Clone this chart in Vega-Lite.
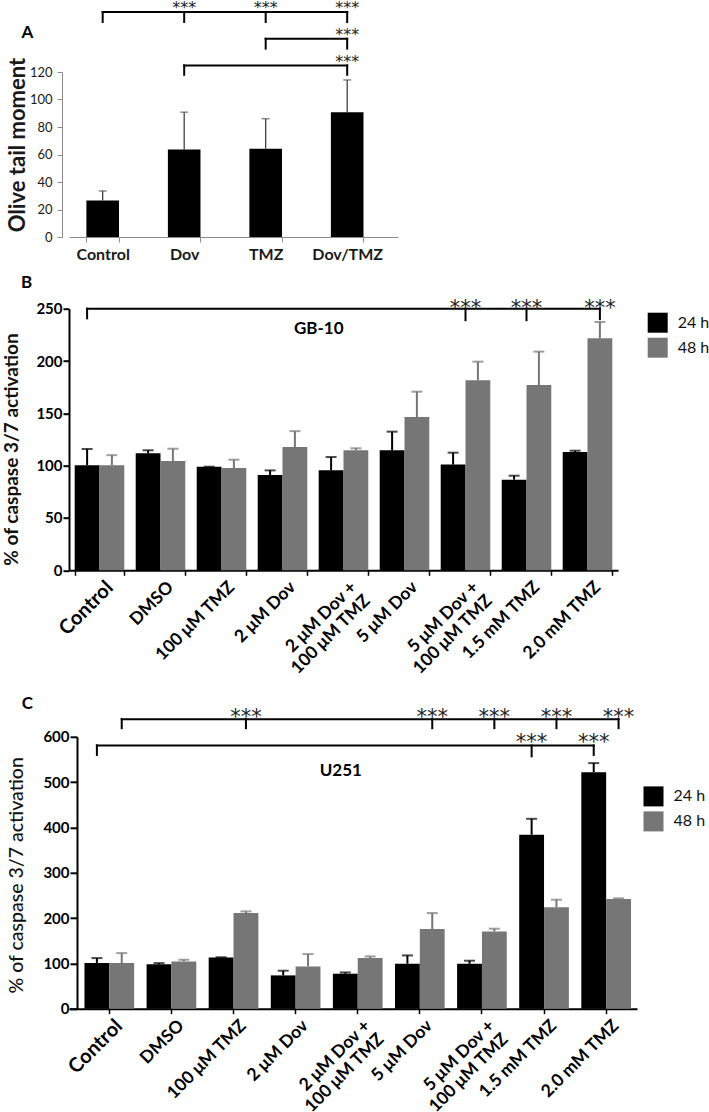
{
  "$schema": "https://vega.github.io/schema/vega-lite/v6.json",
  "padding": {"left": 2, "top": 0, "right": 0, "bottom": 0},
  "config": {
    "font": "Lato",
    "view": {"stroke": null},
    "axis": {"grid": false, "labelFont": "Lato", "titleFont": "Lato", "labelOverlap": false}
  },
  "datasets": {
    "a_bars": [
      {"cat": "Control", "value": 26.5, "upper": 33.5},
      {"cat": "Dov", "value": 63.6, "upper": 90.8},
      {"cat": "TMZ", "value": 64.1, "upper": 86},
      {"cat": "Dov/TMZ", "value": 90.8, "upper": 114.2}
    ],
    "a_hlines": [
      {"id": "a1", "cat": "Control", "y": 163.6}, {"id": "a1", "cat": "Dov/TMZ", "y": 163.6},
      {"id": "a2", "cat": "TMZ", "y": 144.2}, {"id": "a2", "cat": "Dov/TMZ", "y": 144.2},
      {"id": "a3", "cat": "Dov", "y": 124.8}, {"id": "a3", "cat": "Dov/TMZ", "y": 124.8}
    ],
    "a_drops": [
      {"cat": "Control", "y": 156.4, "y2": 163.6}, {"cat": "Dov", "y": 156.4, "y2": 163.6},
      {"cat": "TMZ", "y": 156.4, "y2": 163.6}, {"cat": "Dov/TMZ", "y": 156.4, "y2": 163.6},
      {"cat": "TMZ", "y": 137, "y2": 144.2}, {"cat": "Dov/TMZ", "y": 137, "y2": 144.2},
      {"cat": "Dov", "y": 118, "y2": 124.8}, {"cat": "Dov/TMZ", "y": 118, "y2": 124.8}
    ],
    "a_stars": [
      {"cat": "Dov", "y": 162.8}, {"cat": "TMZ", "y": 162.8}, {"cat": "Dov/TMZ", "y": 162.8},
      {"cat": "Dov/TMZ", "y": 143}, {"cat": "Dov/TMZ", "y": 123.6}
    ],
    "a_letter": [{"cat": "Control", "y": 144.9, "label": "A"}],
    "b_bars": [
      {"cat": "Control", "series": "24 h", "value": 100.5, "upper": 116},
      {"cat": "Control", "series": "48 h", "value": 100.5, "upper": 110},
      {"cat": "DMSO", "series": "24 h", "value": 111.8, "upper": 114.7},
      {"cat": "DMSO", "series": "48 h", "value": 104.5, "upper": 116.2},
      {"cat": "100 μM TMZ", "series": "24 h", "value": 99, "upper": 99},
      {"cat": "100 μM TMZ", "series": "48 h", "value": 97.8, "upper": 105.7},
      {"cat": "2 μM Dov", "series": "24 h", "value": 91, "upper": 95.5},
      {"cat": "2 μM Dov", "series": "48 h", "value": 117.8, "upper": 133},
      {"cat": "2 μM Dov + 100 μM TMZ", "series": "24 h", "value": 95.5, "upper": 108.3},
      {"cat": "2 μM Dov + 100 μM TMZ", "series": "48 h", "value": 114.7, "upper": 116.6},
      {"cat": "5 μM Dov", "series": "24 h", "value": 114.7, "upper": 132.5},
      {"cat": "5 μM Dov", "series": "48 h", "value": 146.5, "upper": 170.7},
      {"cat": "5 μM Dov + 100 μM TMZ", "series": "24 h", "value": 101, "upper": 112.4},
      {"cat": "5 μM Dov + 100 μM TMZ", "series": "48 h", "value": 181.6, "upper": 199.4},
      {"cat": "1.5 mM TMZ", "series": "24 h", "value": 86.6, "upper": 90.4},
      {"cat": "1.5 mM TMZ", "series": "48 h", "value": 177, "upper": 209},
      {"cat": "2.0 mM TMZ", "series": "24 h", "value": 113, "upper": 114.3},
      {"cat": "2.0 mM TMZ", "series": "48 h", "value": 221.7, "upper": 237.3}
    ],
    "b_hlines": [
      {"id": "b1", "cat": "Control", "series": "24 h", "y": 250},
      {"id": "b1", "cat": "2.0 mM TMZ", "series": "48 h", "y": 250}
    ],
    "b_drops_bar": [
      {"cat": "Control", "series": "24 h", "y": 240.8, "y2": 250},
      {"cat": "2.0 mM TMZ", "series": "48 h", "y": 240, "y2": 250}
    ],
    "b_drops_grp": [
      {"cat": "5 μM Dov + 100 μM TMZ", "y": 239, "y2": 250},
      {"cat": "1.5 mM TMZ", "y": 239, "y2": 250}
    ],
    "b_stars_grp": [
      {"cat": "5 μM Dov + 100 μM TMZ", "y": 244.2},
      {"cat": "1.5 mM TMZ", "y": 244.2}
    ],
    "b_stars_bar": [{"cat": "2.0 mM TMZ", "series": "48 h", "y": 244.2}],
    "b_letter": [{"cat": "Control", "y": 270.1, "label": "B"}],
    "b_note": [{"cat": "2 μM Dov + 100 μM TMZ", "y": 225.5, "label": "GB-10"}],
    "c_bars": [
      {"cat": "Control", "series": "24 h", "value": 100.6, "upper": 111.7},
      {"cat": "Control", "series": "48 h", "value": 100.6, "upper": 122.7},
      {"cat": "DMSO", "series": "24 h", "value": 98, "upper": 100.6},
      {"cat": "DMSO", "series": "48 h", "value": 104.4, "upper": 108},
      {"cat": "100 μM TMZ", "series": "24 h", "value": 113, "upper": 113.5},
      {"cat": "100 μM TMZ", "series": "48 h", "value": 211, "upper": 214.7},
      {"cat": "2 μM Dov", "series": "24 h", "value": 73.5, "upper": 83.8},
      {"cat": "2 μM Dov", "series": "48 h", "value": 93.3, "upper": 120.5},
      {"cat": "2 μM Dov + 100 μM TMZ", "series": "24 h", "value": 77.2, "upper": 80},
      {"cat": "2 μM Dov + 100 μM TMZ", "series": "48 h", "value": 111.7, "upper": 115.4},
      {"cat": "5 μM Dov", "series": "24 h", "value": 99.2, "upper": 117.6},
      {"cat": "5 μM Dov", "series": "48 h", "value": 175.7, "upper": 211},
      {"cat": "5 μM Dov + 100 μM TMZ", "series": "24 h", "value": 99.2, "upper": 105.9},
      {"cat": "5 μM Dov + 100 μM TMZ", "series": "48 h", "value": 170.5, "upper": 176.5},
      {"cat": "1.5 mM TMZ", "series": "24 h", "value": 384, "upper": 419},
      {"cat": "1.5 mM TMZ", "series": "48 h", "value": 224, "upper": 240.5},
      {"cat": "2.0 mM TMZ", "series": "24 h", "value": 522, "upper": 542},
      {"cat": "2.0 mM TMZ", "series": "48 h", "value": 241.8, "upper": 243.6}
    ],
    "c_hlines": [
      {"id": "c1", "cat": "Control", "series": "48 h", "y": 639},
      {"id": "c1", "cat": "2.0 mM TMZ", "series": "48 h", "y": 639},
      {"id": "c2", "cat": "Control", "series": "24 h", "y": 581},
      {"id": "c2", "cat": "2.0 mM TMZ", "series": "24 h", "y": 581}
    ],
    "c_drops": [
      {"cat": "Control", "series": "48 h", "y": 619, "y2": 639},
      {"cat": "100 μM TMZ", "series": "48 h", "y": 619, "y2": 639},
      {"cat": "5 μM Dov", "series": "48 h", "y": 619, "y2": 639},
      {"cat": "5 μM Dov + 100 μM TMZ", "series": "48 h", "y": 619, "y2": 639},
      {"cat": "1.5 mM TMZ", "series": "48 h", "y": 619, "y2": 639},
      {"cat": "2.0 mM TMZ", "series": "48 h", "y": 619, "y2": 639},
      {"cat": "Control", "series": "24 h", "y": 560, "y2": 581},
      {"cat": "1.5 mM TMZ", "series": "24 h", "y": 557, "y2": 581},
      {"cat": "2.0 mM TMZ", "series": "24 h", "y": 560, "y2": 581}
    ],
    "c_stars": [
      {"cat": "100 μM TMZ", "series": "48 h", "y": 629.3},
      {"cat": "5 μM Dov", "series": "48 h", "y": 629.3},
      {"cat": "5 μM Dov + 100 μM TMZ", "series": "48 h", "y": 629.3},
      {"cat": "1.5 mM TMZ", "series": "48 h", "y": 629.3},
      {"cat": "2.0 mM TMZ", "series": "48 h", "y": 629.3},
      {"cat": "1.5 mM TMZ", "series": "24 h", "y": 574.1},
      {"cat": "2.0 mM TMZ", "series": "24 h", "y": 574.1}
    ],
    "c_letter": [{"cat": "Control", "y": 660.4, "label": "C"}],
    "c_note": [{"cat": "2 μM Dov + 100 μM TMZ", "y": 512.6, "label": "U251"}]
  },
  "bounds": "flush",
  "spacing": 71.7,
  "resolve": {"scale": {"color": "independent", "xOffset": "independent"}, "legend": {"color": "independent"}},
  "vconcat": [
    {
      "width": 329,
      "height": 165,
      "layer": [
        {
          "data": {"name": "a_bars"},
          "mark": {"type": "bar", "color": "#000000"},
          "encoding": {
            "x": {"field": "cat", "type": "nominal", "sort": null, "scale": {"domain": ["Control", "Dov", "TMZ", "Dov/TMZ"], "paddingInner": 0.6, "paddingOuter": 0.3185, "align": 0.335}, "axis": {"title": null, "labelAngle": 0, "labelFontSize": 16, "labelFontWeight": "bold", "labelColor": "#1a1a1a", "labelPadding": 4, "domainColor": "#8c8c8c", "domainWidth": 1, "tickColor": "#8c8c8c", "tickSize": 5, "tickWidth": 1, "tickBand": "extent"}},
            "y": {"field": "value", "type": "quantitative", "scale": {"domain": [0, 120], "nice": false}, "axis": {"title": "Olive tail moment", "values": [0, 20, 40, 60, 80, 100, 120], "offset": 7, "labelOverlap": false, "labelFontSize": 13, "labelColor": "#1a1a1a", "labelPadding": 5, "tickSize": 5, "tickColor": "#8c8c8c", "domainColor": "#8c8c8c", "titleFontSize": 22, "titleFontWeight": "bold", "titleColor": "#1a1a1a", "titleX": -38, "titleY": 72.5, "titleAngle": -90, "titleAlign": "center", "titleBaseline": "alphabetic"}}
          }
        },
        {
          "data": {"name": "a_bars"},
          "mark": {"type": "rule", "color": "#333333", "strokeWidth": 1.2},
          "encoding": {
            "x": {"field": "cat", "type": "nominal", "sort": null, "scale": {"domain": ["Control", "Dov", "TMZ", "Dov/TMZ"], "paddingInner": 0.6, "paddingOuter": 0.3185, "align": 0.335}, "axis": {"title": null, "labelAngle": 0, "labelFontSize": 16, "labelFontWeight": "bold", "labelColor": "#1a1a1a", "labelPadding": 4, "domainColor": "#8c8c8c", "domainWidth": 1, "tickColor": "#8c8c8c", "tickSize": 5, "tickWidth": 1, "tickBand": "extent"}},
            "y": {"field": "value", "type": "quantitative", "scale": {"domain": [0, 120], "nice": false}, "axis": {"title": "Olive tail moment", "values": [0, 20, 40, 60, 80, 100, 120], "offset": 7, "labelOverlap": false, "labelFontSize": 13, "labelColor": "#1a1a1a", "labelPadding": 5, "tickSize": 5, "tickColor": "#8c8c8c", "domainColor": "#8c8c8c", "titleFontSize": 22, "titleFontWeight": "bold", "titleColor": "#1a1a1a", "titleX": -38, "titleY": 72.5, "titleAngle": -90, "titleAlign": "center", "titleBaseline": "alphabetic"}},
            "y2": {"field": "upper"}
          }
        },
        {
          "data": {"name": "a_bars"},
          "mark": {"type": "tick", "orient": "horizontal", "color": "#333333", "size": 8, "thickness": 1.2},
          "encoding": {
            "x": {"field": "cat", "type": "nominal", "sort": null, "scale": {"domain": ["Control", "Dov", "TMZ", "Dov/TMZ"], "paddingInner": 0.6, "paddingOuter": 0.3185, "align": 0.335}, "axis": {"title": null, "labelAngle": 0, "labelFontSize": 16, "labelFontWeight": "bold", "labelColor": "#1a1a1a", "labelPadding": 4, "domainColor": "#8c8c8c", "domainWidth": 1, "tickColor": "#8c8c8c", "tickSize": 5, "tickWidth": 1, "tickBand": "extent"}},
            "y": {"field": "upper", "type": "quantitative", "scale": {"domain": [0, 120], "nice": false}, "axis": {"title": "Olive tail moment", "values": [0, 20, 40, 60, 80, 100, 120], "offset": 7, "labelOverlap": false, "labelFontSize": 13, "labelColor": "#1a1a1a", "labelPadding": 5, "tickSize": 5, "tickColor": "#8c8c8c", "domainColor": "#8c8c8c", "titleFontSize": 22, "titleFontWeight": "bold", "titleColor": "#1a1a1a", "titleX": -38, "titleY": 72.5, "titleAngle": -90, "titleAlign": "center", "titleBaseline": "alphabetic"}}
          }
        },
        {
          "data": {"name": "a_hlines"},
          "mark": {"type": "line", "color": "#000000", "strokeWidth": 2, "strokeCap": "square"},
          "encoding": {
            "x": {"field": "cat", "type": "nominal", "sort": null, "scale": {"domain": ["Control", "Dov", "TMZ", "Dov/TMZ"], "paddingInner": 0.6, "paddingOuter": 0.3185, "align": 0.335}, "axis": {"title": null, "labelAngle": 0, "labelFontSize": 16, "labelFontWeight": "bold", "labelColor": "#1a1a1a", "labelPadding": 4, "domainColor": "#8c8c8c", "domainWidth": 1, "tickColor": "#8c8c8c", "tickSize": 5, "tickWidth": 1, "tickBand": "extent"}},
            "y": {"field": "y", "type": "quantitative", "scale": {"domain": [0, 120], "nice": false}, "axis": {"title": "Olive tail moment", "values": [0, 20, 40, 60, 80, 100, 120], "offset": 7, "labelOverlap": false, "labelFontSize": 13, "labelColor": "#1a1a1a", "labelPadding": 5, "tickSize": 5, "tickColor": "#8c8c8c", "domainColor": "#8c8c8c", "titleFontSize": 22, "titleFontWeight": "bold", "titleColor": "#1a1a1a", "titleX": -38, "titleY": 72.5, "titleAngle": -90, "titleAlign": "center", "titleBaseline": "alphabetic"}},
            "detail": {"field": "id"}
          }
        },
        {
          "data": {"name": "a_drops"},
          "mark": {"type": "rule", "color": "#000000", "strokeWidth": 2, "strokeCap": "square"},
          "encoding": {
            "x": {"field": "cat", "type": "nominal", "sort": null, "scale": {"domain": ["Control", "Dov", "TMZ", "Dov/TMZ"], "paddingInner": 0.6, "paddingOuter": 0.3185, "align": 0.335}, "axis": {"title": null, "labelAngle": 0, "labelFontSize": 16, "labelFontWeight": "bold", "labelColor": "#1a1a1a", "labelPadding": 4, "domainColor": "#8c8c8c", "domainWidth": 1, "tickColor": "#8c8c8c", "tickSize": 5, "tickWidth": 1, "tickBand": "extent"}},
            "y": {"field": "y", "type": "quantitative", "scale": {"domain": [0, 120], "nice": false}, "axis": {"title": "Olive tail moment", "values": [0, 20, 40, 60, 80, 100, 120], "offset": 7, "labelOverlap": false, "labelFontSize": 13, "labelColor": "#1a1a1a", "labelPadding": 5, "tickSize": 5, "tickColor": "#8c8c8c", "domainColor": "#8c8c8c", "titleFontSize": 22, "titleFontWeight": "bold", "titleColor": "#1a1a1a", "titleX": -38, "titleY": 72.5, "titleAngle": -90, "titleAlign": "center", "titleBaseline": "alphabetic"}},
            "y2": {"field": "y2"}
          }
        },
        {
          "data": {"name": "a_stars"},
          "mark": {"type": "text", "text": "***", "font": "DejaVu Sans", "fontSize": 16, "color": "#222222", "align": "center", "baseline": "alphabetic"},
          "encoding": {
            "x": {"field": "cat", "type": "nominal", "sort": null, "scale": {"domain": ["Control", "Dov", "TMZ", "Dov/TMZ"], "paddingInner": 0.6, "paddingOuter": 0.3185, "align": 0.335}, "axis": {"title": null, "labelAngle": 0, "labelFontSize": 16, "labelFontWeight": "bold", "labelColor": "#1a1a1a", "labelPadding": 4, "domainColor": "#8c8c8c", "domainWidth": 1, "tickColor": "#8c8c8c", "tickSize": 5, "tickWidth": 1, "tickBand": "extent"}},
            "y": {"field": "y", "type": "quantitative", "scale": {"domain": [0, 120], "nice": false}, "axis": {"title": "Olive tail moment", "values": [0, 20, 40, 60, 80, 100, 120], "offset": 7, "labelOverlap": false, "labelFontSize": 13, "labelColor": "#1a1a1a", "labelPadding": 5, "tickSize": 5, "tickColor": "#8c8c8c", "domainColor": "#8c8c8c", "titleFontSize": 22, "titleFontWeight": "bold", "titleColor": "#1a1a1a", "titleX": -38, "titleY": 72.5, "titleAngle": -90, "titleAlign": "center", "titleBaseline": "alphabetic"}}
          }
        },
        {
          "data": {"name": "a_letter"},
          "mark": {"type": "text", "fontSize": 17, "fontWeight": "bold", "color": "#000000", "align": "left", "baseline": "alphabetic", "dx": -65},
          "encoding": {
            "x": {"field": "cat", "type": "nominal", "sort": null, "bandPosition": 0, "scale": {"domain": ["Control", "Dov", "TMZ", "Dov/TMZ"], "paddingInner": 0.6, "paddingOuter": 0.3185, "align": 0.335}, "axis": {"title": null, "labelAngle": 0, "labelFontSize": 16, "labelFontWeight": "bold", "labelColor": "#1a1a1a", "labelPadding": 4, "domainColor": "#8c8c8c", "domainWidth": 1, "tickColor": "#8c8c8c", "tickSize": 5, "tickWidth": 1, "tickBand": "extent"}},
            "y": {"field": "y", "type": "quantitative", "scale": {"domain": [0, 120], "nice": false}, "axis": {"title": "Olive tail moment", "values": [0, 20, 40, 60, 80, 100, 120], "offset": 7, "labelOverlap": false, "labelFontSize": 13, "labelColor": "#1a1a1a", "labelPadding": 5, "tickSize": 5, "tickColor": "#8c8c8c", "domainColor": "#8c8c8c", "titleFontSize": 22, "titleFontWeight": "bold", "titleColor": "#1a1a1a", "titleX": -38, "titleY": 72.5, "titleAngle": -90, "titleAlign": "center", "titleBaseline": "alphabetic"}},
            "text": {"field": "label"}
          }
        }
      ]
    },
    {
      "bounds": "flush",
      "spacing": 166.1,
      "resolve": {"scale": {"color": "independent", "xOffset": "independent"}, "legend": {"color": "independent"}},
      "vconcat": [
        {
          "width": 549,
          "height": 261.6,
          "layer": [
            {
              "data": {"name": "b_bars"},
              "mark": {"type": "bar"},
              "encoding": {
                "x": {"field": "cat", "type": "nominal", "sort": null, "scale": {"domain": ["Control", "DMSO", "100 μM TMZ", "2 μM Dov", "2 μM Dov + 100 μM TMZ", "5 μM Dov", "5 μM Dov + 100 μM TMZ", "1.5 mM TMZ", "2.0 mM TMZ"], "paddingInner": 0.187, "paddingOuter": 0.0935}, "axis": {"title": null, "labelAngle": -45, "labelAlign": "right", "labelBaseline": "middle", "labelFontSize": {"condition": {"test": "datum.value === 'Control'", "value": 20}, "value": 17.5}, "labelFontWeight": "bold", "labelColor": "#000000", "labelOffset": 10, "labelPadding": 9, "labelLineHeight": 19, "labelOverlap": false, "labelExpr": "indexof(datum.label, '+') > 0 ? [slice(datum.label, 0, indexof(datum.label, '+') + 1), slice(datum.label, indexof(datum.label, '+') + 2)] : datum.label", "domainColor": "#000000", "domainWidth": 2, "tickColor": "#000000", "tickWidth": 1.5, "tickSize": 5, "tickBand": "extent"}},
                "xOffset": {"field": "series", "type": "nominal", "scale": {"domain": ["24 h", "48 h"], "paddingInner": 0}},
                "y": {"field": "value", "type": "quantitative", "scale": {"domain": [0, 250], "nice": false}, "axis": {"title": "% of caspase 3/7 activation", "values": [0, 50, 100, 150, 200, 250], "labelOverlap": false, "labelFontSize": 15, "labelFontWeight": "bold", "labelColor": "#000000", "labelPadding": 1, "tickSize": 6, "tickWidth": 2, "tickColor": "#000000", "domainColor": "#000000", "domainWidth": 2, "titleFontSize": 19, "titleFontWeight": "bold", "titleColor": "#111111", "titleX": -51.7, "titleY": 140.3, "titleAngle": -90, "titleAlign": "center", "titleBaseline": "alphabetic"}},
                "color": {"field": "series", "type": "nominal", "scale": {"domain": ["24 h", "48 h"], "range": ["#000000", "#767676"]}, "legend": {"orient": "none", "legendX": 578.7, "legendY": 4, "title": null, "symbolType": "square", "symbolSize": 400, "symbolStrokeWidth": 0, "symbolOpacity": 1, "labelFontSize": 16, "labelFont": "Lato", "labelColor": "#111111", "labelOffset": 10, "rowPadding": 5, "padding": 0, "direction": "vertical"}}
              }
            },
            {
              "data": {"name": "b_bars"},
              "mark": {"type": "rule", "strokeWidth": 2},
              "encoding": {
                "x": {"field": "cat", "type": "nominal", "sort": null, "scale": {"domain": ["Control", "DMSO", "100 μM TMZ", "2 μM Dov", "2 μM Dov + 100 μM TMZ", "5 μM Dov", "5 μM Dov + 100 μM TMZ", "1.5 mM TMZ", "2.0 mM TMZ"], "paddingInner": 0.187, "paddingOuter": 0.0935}, "axis": {"title": null, "labelAngle": -45, "labelAlign": "right", "labelBaseline": "middle", "labelFontSize": {"condition": {"test": "datum.value === 'Control'", "value": 20}, "value": 17.5}, "labelFontWeight": "bold", "labelColor": "#000000", "labelOffset": 10, "labelPadding": 9, "labelLineHeight": 19, "labelOverlap": false, "labelExpr": "indexof(datum.label, '+') > 0 ? [slice(datum.label, 0, indexof(datum.label, '+') + 1), slice(datum.label, indexof(datum.label, '+') + 2)] : datum.label", "domainColor": "#000000", "domainWidth": 2, "tickColor": "#000000", "tickWidth": 1.5, "tickSize": 5, "tickBand": "extent"}},
                "xOffset": {"field": "series", "type": "nominal", "scale": {"domain": ["24 h", "48 h"], "paddingInner": 0}},
                "y": {"field": "value", "type": "quantitative", "scale": {"domain": [0, 250], "nice": false}, "axis": {"title": "% of caspase 3/7 activation", "values": [0, 50, 100, 150, 200, 250], "labelOverlap": false, "labelFontSize": 15, "labelFontWeight": "bold", "labelColor": "#000000", "labelPadding": 1, "tickSize": 6, "tickWidth": 2, "tickColor": "#000000", "domainColor": "#000000", "domainWidth": 2, "titleFontSize": 19, "titleFontWeight": "bold", "titleColor": "#111111", "titleX": -51.7, "titleY": 140.3, "titleAngle": -90, "titleAlign": "center", "titleBaseline": "alphabetic"}},
                "y2": {"field": "upper"},
                "color": {"field": "series", "type": "nominal", "scale": {"domain": ["24 h", "48 h"], "range": ["#000000", "#767676"]}, "legend": null}
              }
            },
            {
              "data": {"name": "b_bars"},
              "mark": {"type": "tick", "orient": "horizontal", "size": 11, "thickness": 2},
              "encoding": {
                "x": {"field": "cat", "type": "nominal", "sort": null, "scale": {"domain": ["Control", "DMSO", "100 μM TMZ", "2 μM Dov", "2 μM Dov + 100 μM TMZ", "5 μM Dov", "5 μM Dov + 100 μM TMZ", "1.5 mM TMZ", "2.0 mM TMZ"], "paddingInner": 0.187, "paddingOuter": 0.0935}, "axis": {"title": null, "labelAngle": -45, "labelAlign": "right", "labelBaseline": "middle", "labelFontSize": {"condition": {"test": "datum.value === 'Control'", "value": 20}, "value": 17.5}, "labelFontWeight": "bold", "labelColor": "#000000", "labelOffset": 10, "labelPadding": 9, "labelLineHeight": 19, "labelOverlap": false, "labelExpr": "indexof(datum.label, '+') > 0 ? [slice(datum.label, 0, indexof(datum.label, '+') + 1), slice(datum.label, indexof(datum.label, '+') + 2)] : datum.label", "domainColor": "#000000", "domainWidth": 2, "tickColor": "#000000", "tickWidth": 1.5, "tickSize": 5, "tickBand": "extent"}},
                "xOffset": {"field": "series", "type": "nominal", "scale": {"domain": ["24 h", "48 h"], "paddingInner": 0}},
                "y": {"field": "upper", "type": "quantitative", "scale": {"domain": [0, 250], "nice": false}, "axis": {"title": "% of caspase 3/7 activation", "values": [0, 50, 100, 150, 200, 250], "labelOverlap": false, "labelFontSize": 15, "labelFontWeight": "bold", "labelColor": "#000000", "labelPadding": 1, "tickSize": 6, "tickWidth": 2, "tickColor": "#000000", "domainColor": "#000000", "domainWidth": 2, "titleFontSize": 19, "titleFontWeight": "bold", "titleColor": "#111111", "titleX": -51.7, "titleY": 140.3, "titleAngle": -90, "titleAlign": "center", "titleBaseline": "alphabetic"}},
                "color": {"field": "series", "type": "nominal", "scale": {"domain": ["24 h", "48 h"], "range": ["#000000", "#767676"]}, "legend": null}
              }
            },
            {
              "data": {"name": "b_hlines"},
              "mark": {"type": "line", "color": "#000000", "strokeWidth": 2, "strokeCap": "square"},
              "encoding": {
                "x": {"field": "cat", "type": "nominal", "sort": null, "scale": {"domain": ["Control", "DMSO", "100 μM TMZ", "2 μM Dov", "2 μM Dov + 100 μM TMZ", "5 μM Dov", "5 μM Dov + 100 μM TMZ", "1.5 mM TMZ", "2.0 mM TMZ"], "paddingInner": 0.187, "paddingOuter": 0.0935}, "axis": {"title": null, "labelAngle": -45, "labelAlign": "right", "labelBaseline": "middle", "labelFontSize": {"condition": {"test": "datum.value === 'Control'", "value": 20}, "value": 17.5}, "labelFontWeight": "bold", "labelColor": "#000000", "labelOffset": 10, "labelPadding": 9, "labelLineHeight": 19, "labelOverlap": false, "labelExpr": "indexof(datum.label, '+') > 0 ? [slice(datum.label, 0, indexof(datum.label, '+') + 1), slice(datum.label, indexof(datum.label, '+') + 2)] : datum.label", "domainColor": "#000000", "domainWidth": 2, "tickColor": "#000000", "tickWidth": 1.5, "tickSize": 5, "tickBand": "extent"}},
                "xOffset": {"field": "series", "type": "nominal", "scale": {"domain": ["24 h", "48 h"], "paddingInner": 0}},
                "y": {"field": "y", "type": "quantitative", "scale": {"domain": [0, 250], "nice": false}, "axis": {"title": "% of caspase 3/7 activation", "values": [0, 50, 100, 150, 200, 250], "labelOverlap": false, "labelFontSize": 15, "labelFontWeight": "bold", "labelColor": "#000000", "labelPadding": 1, "tickSize": 6, "tickWidth": 2, "tickColor": "#000000", "domainColor": "#000000", "domainWidth": 2, "titleFontSize": 19, "titleFontWeight": "bold", "titleColor": "#111111", "titleX": -51.7, "titleY": 140.3, "titleAngle": -90, "titleAlign": "center", "titleBaseline": "alphabetic"}},
                "detail": {"field": "id"}
              }
            },
            {
              "data": {"name": "b_drops_bar"},
              "mark": {"type": "rule", "color": "#000000", "strokeWidth": 2, "strokeCap": "square"},
              "encoding": {
                "x": {"field": "cat", "type": "nominal", "sort": null, "scale": {"domain": ["Control", "DMSO", "100 μM TMZ", "2 μM Dov", "2 μM Dov + 100 μM TMZ", "5 μM Dov", "5 μM Dov + 100 μM TMZ", "1.5 mM TMZ", "2.0 mM TMZ"], "paddingInner": 0.187, "paddingOuter": 0.0935}, "axis": {"title": null, "labelAngle": -45, "labelAlign": "right", "labelBaseline": "middle", "labelFontSize": {"condition": {"test": "datum.value === 'Control'", "value": 20}, "value": 17.5}, "labelFontWeight": "bold", "labelColor": "#000000", "labelOffset": 10, "labelPadding": 9, "labelLineHeight": 19, "labelOverlap": false, "labelExpr": "indexof(datum.label, '+') > 0 ? [slice(datum.label, 0, indexof(datum.label, '+') + 1), slice(datum.label, indexof(datum.label, '+') + 2)] : datum.label", "domainColor": "#000000", "domainWidth": 2, "tickColor": "#000000", "tickWidth": 1.5, "tickSize": 5, "tickBand": "extent"}},
                "xOffset": {"field": "series", "type": "nominal", "scale": {"domain": ["24 h", "48 h"], "paddingInner": 0}},
                "y": {"field": "y", "type": "quantitative", "scale": {"domain": [0, 250], "nice": false}, "axis": {"title": "% of caspase 3/7 activation", "values": [0, 50, 100, 150, 200, 250], "labelOverlap": false, "labelFontSize": 15, "labelFontWeight": "bold", "labelColor": "#000000", "labelPadding": 1, "tickSize": 6, "tickWidth": 2, "tickColor": "#000000", "domainColor": "#000000", "domainWidth": 2, "titleFontSize": 19, "titleFontWeight": "bold", "titleColor": "#111111", "titleX": -51.7, "titleY": 140.3, "titleAngle": -90, "titleAlign": "center", "titleBaseline": "alphabetic"}},
                "y2": {"field": "y2"}
              }
            },
            {
              "data": {"name": "b_drops_grp"},
              "mark": {"type": "rule", "color": "#000000", "strokeWidth": 2, "strokeCap": "square"},
              "encoding": {
                "x": {"field": "cat", "type": "nominal", "sort": null, "scale": {"domain": ["Control", "DMSO", "100 μM TMZ", "2 μM Dov", "2 μM Dov + 100 μM TMZ", "5 μM Dov", "5 μM Dov + 100 μM TMZ", "1.5 mM TMZ", "2.0 mM TMZ"], "paddingInner": 0.187, "paddingOuter": 0.0935}, "axis": {"title": null, "labelAngle": -45, "labelAlign": "right", "labelBaseline": "middle", "labelFontSize": {"condition": {"test": "datum.value === 'Control'", "value": 20}, "value": 17.5}, "labelFontWeight": "bold", "labelColor": "#000000", "labelOffset": 10, "labelPadding": 9, "labelLineHeight": 19, "labelOverlap": false, "labelExpr": "indexof(datum.label, '+') > 0 ? [slice(datum.label, 0, indexof(datum.label, '+') + 1), slice(datum.label, indexof(datum.label, '+') + 2)] : datum.label", "domainColor": "#000000", "domainWidth": 2, "tickColor": "#000000", "tickWidth": 1.5, "tickSize": 5, "tickBand": "extent"}},
                "y": {"field": "y", "type": "quantitative", "scale": {"domain": [0, 250], "nice": false}, "axis": {"title": "% of caspase 3/7 activation", "values": [0, 50, 100, 150, 200, 250], "labelOverlap": false, "labelFontSize": 15, "labelFontWeight": "bold", "labelColor": "#000000", "labelPadding": 1, "tickSize": 6, "tickWidth": 2, "tickColor": "#000000", "domainColor": "#000000", "domainWidth": 2, "titleFontSize": 19, "titleFontWeight": "bold", "titleColor": "#111111", "titleX": -51.7, "titleY": 140.3, "titleAngle": -90, "titleAlign": "center", "titleBaseline": "alphabetic"}},
                "y2": {"field": "y2"}
              }
            },
            {
              "data": {"name": "b_stars_grp"},
              "mark": {"type": "text", "text": "***", "font": "DejaVu Sans", "fontSize": 21, "color": "#222222", "align": "center", "baseline": "alphabetic"},
              "encoding": {
                "x": {"field": "cat", "type": "nominal", "sort": null, "scale": {"domain": ["Control", "DMSO", "100 μM TMZ", "2 μM Dov", "2 μM Dov + 100 μM TMZ", "5 μM Dov", "5 μM Dov + 100 μM TMZ", "1.5 mM TMZ", "2.0 mM TMZ"], "paddingInner": 0.187, "paddingOuter": 0.0935}, "axis": {"title": null, "labelAngle": -45, "labelAlign": "right", "labelBaseline": "middle", "labelFontSize": {"condition": {"test": "datum.value === 'Control'", "value": 20}, "value": 17.5}, "labelFontWeight": "bold", "labelColor": "#000000", "labelOffset": 10, "labelPadding": 9, "labelLineHeight": 19, "labelOverlap": false, "labelExpr": "indexof(datum.label, '+') > 0 ? [slice(datum.label, 0, indexof(datum.label, '+') + 1), slice(datum.label, indexof(datum.label, '+') + 2)] : datum.label", "domainColor": "#000000", "domainWidth": 2, "tickColor": "#000000", "tickWidth": 1.5, "tickSize": 5, "tickBand": "extent"}},
                "y": {"field": "y", "type": "quantitative", "scale": {"domain": [0, 250], "nice": false}, "axis": {"title": "% of caspase 3/7 activation", "values": [0, 50, 100, 150, 200, 250], "labelOverlap": false, "labelFontSize": 15, "labelFontWeight": "bold", "labelColor": "#000000", "labelPadding": 1, "tickSize": 6, "tickWidth": 2, "tickColor": "#000000", "domainColor": "#000000", "domainWidth": 2, "titleFontSize": 19, "titleFontWeight": "bold", "titleColor": "#111111", "titleX": -51.7, "titleY": 140.3, "titleAngle": -90, "titleAlign": "center", "titleBaseline": "alphabetic"}}
              }
            },
            {
              "data": {"name": "b_stars_bar"},
              "mark": {"type": "text", "text": "***", "font": "DejaVu Sans", "fontSize": 21, "color": "#222222", "align": "center", "baseline": "alphabetic"},
              "encoding": {
                "x": {"field": "cat", "type": "nominal", "sort": null, "scale": {"domain": ["Control", "DMSO", "100 μM TMZ", "2 μM Dov", "2 μM Dov + 100 μM TMZ", "5 μM Dov", "5 μM Dov + 100 μM TMZ", "1.5 mM TMZ", "2.0 mM TMZ"], "paddingInner": 0.187, "paddingOuter": 0.0935}, "axis": {"title": null, "labelAngle": -45, "labelAlign": "right", "labelBaseline": "middle", "labelFontSize": {"condition": {"test": "datum.value === 'Control'", "value": 20}, "value": 17.5}, "labelFontWeight": "bold", "labelColor": "#000000", "labelOffset": 10, "labelPadding": 9, "labelLineHeight": 19, "labelOverlap": false, "labelExpr": "indexof(datum.label, '+') > 0 ? [slice(datum.label, 0, indexof(datum.label, '+') + 1), slice(datum.label, indexof(datum.label, '+') + 2)] : datum.label", "domainColor": "#000000", "domainWidth": 2, "tickColor": "#000000", "tickWidth": 1.5, "tickSize": 5, "tickBand": "extent"}},
                "xOffset": {"field": "series", "type": "nominal", "scale": {"domain": ["24 h", "48 h"], "paddingInner": 0}},
                "y": {"field": "y", "type": "quantitative", "scale": {"domain": [0, 250], "nice": false}, "axis": {"title": "% of caspase 3/7 activation", "values": [0, 50, 100, 150, 200, 250], "labelOverlap": false, "labelFontSize": 15, "labelFontWeight": "bold", "labelColor": "#000000", "labelPadding": 1, "tickSize": 6, "tickWidth": 2, "tickColor": "#000000", "domainColor": "#000000", "domainWidth": 2, "titleFontSize": 19, "titleFontWeight": "bold", "titleColor": "#111111", "titleX": -51.7, "titleY": 140.3, "titleAngle": -90, "titleAlign": "center", "titleBaseline": "alphabetic"}}
              }
            },
            {
              "data": {"name": "b_note"},
              "mark": {"type": "text", "fontSize": 17, "fontWeight": "bold", "color": "#000000", "align": "center", "baseline": "alphabetic"},
              "encoding": {
                "x": {"field": "cat", "type": "nominal", "sort": null, "bandPosition": 0, "scale": {"domain": ["Control", "DMSO", "100 μM TMZ", "2 μM Dov", "2 μM Dov + 100 μM TMZ", "5 μM Dov", "5 μM Dov + 100 μM TMZ", "1.5 mM TMZ", "2.0 mM TMZ"], "paddingInner": 0.187, "paddingOuter": 0.0935}, "axis": {"title": null, "labelAngle": -45, "labelAlign": "right", "labelBaseline": "middle", "labelFontSize": {"condition": {"test": "datum.value === 'Control'", "value": 20}, "value": 17.5}, "labelFontWeight": "bold", "labelColor": "#000000", "labelOffset": 10, "labelPadding": 9, "labelLineHeight": 19, "labelOverlap": false, "labelExpr": "indexof(datum.label, '+') > 0 ? [slice(datum.label, 0, indexof(datum.label, '+') + 1), slice(datum.label, indexof(datum.label, '+') + 2)] : datum.label", "domainColor": "#000000", "domainWidth": 2, "tickColor": "#000000", "tickWidth": 1.5, "tickSize": 5, "tickBand": "extent"}},
                "y": {"field": "y", "type": "quantitative", "scale": {"domain": [0, 250], "nice": false}, "axis": {"title": "% of caspase 3/7 activation", "values": [0, 50, 100, 150, 200, 250], "labelOverlap": false, "labelFontSize": 15, "labelFontWeight": "bold", "labelColor": "#000000", "labelPadding": 1, "tickSize": 6, "tickWidth": 2, "tickColor": "#000000", "domainColor": "#000000", "domainWidth": 2, "titleFontSize": 19, "titleFontWeight": "bold", "titleColor": "#111111", "titleX": -51.7, "titleY": 140.3, "titleAngle": -90, "titleAlign": "center", "titleBaseline": "alphabetic"}},
                "text": {"field": "label"}
              }
            },
            {
              "data": {"name": "b_letter"},
              "mark": {"type": "text", "fontSize": 17, "fontWeight": "bold", "color": "#000000", "align": "left", "baseline": "alphabetic", "dx": -53.7},
              "encoding": {
                "x": {"field": "cat", "type": "nominal", "sort": null, "bandPosition": 0, "scale": {"domain": ["Control", "DMSO", "100 μM TMZ", "2 μM Dov", "2 μM Dov + 100 μM TMZ", "5 μM Dov", "5 μM Dov + 100 μM TMZ", "1.5 mM TMZ", "2.0 mM TMZ"], "paddingInner": 0.187, "paddingOuter": 0.0935}, "axis": {"title": null, "labelAngle": -45, "labelAlign": "right", "labelBaseline": "middle", "labelFontSize": {"condition": {"test": "datum.value === 'Control'", "value": 20}, "value": 17.5}, "labelFontWeight": "bold", "labelColor": "#000000", "labelOffset": 10, "labelPadding": 9, "labelLineHeight": 19, "labelOverlap": false, "labelExpr": "indexof(datum.label, '+') > 0 ? [slice(datum.label, 0, indexof(datum.label, '+') + 1), slice(datum.label, indexof(datum.label, '+') + 2)] : datum.label", "domainColor": "#000000", "domainWidth": 2, "tickColor": "#000000", "tickWidth": 1.5, "tickSize": 5, "tickBand": "extent"}},
                "y": {"field": "y", "type": "quantitative", "scale": {"domain": [0, 250], "nice": false}, "axis": {"title": "% of caspase 3/7 activation", "values": [0, 50, 100, 150, 200, 250], "labelOverlap": false, "labelFontSize": 15, "labelFontWeight": "bold", "labelColor": "#000000", "labelPadding": 1, "tickSize": 6, "tickWidth": 2, "tickColor": "#000000", "domainColor": "#000000", "domainWidth": 2, "titleFontSize": 19, "titleFontWeight": "bold", "titleColor": "#111111", "titleX": -51.7, "titleY": 140.3, "titleAngle": -90, "titleAlign": "center", "titleBaseline": "alphabetic"}},
                "text": {"field": "label"}
              }
            }
          ]
        },
        {
          "width": 568,
          "height": 271.9,
          "layer": [
            {
              "data": {"name": "c_bars"},
              "mark": {"type": "bar"},
              "encoding": {
                "x": {"field": "cat", "type": "nominal", "sort": null, "scale": {"domain": ["Control", "DMSO", "100 μM TMZ", "2 μM Dov", "2 μM Dov + 100 μM TMZ", "5 μM Dov", "5 μM Dov + 100 μM TMZ", "1.5 mM TMZ", "2.0 mM TMZ"], "paddingInner": 0.2, "paddingOuter": 0.173, "align": 0.72}, "axis": {"title": null, "labelAngle": -45, "labelAlign": "right", "labelBaseline": "middle", "labelFontSize": {"condition": {"test": "datum.value === 'Control'", "value": 20}, "value": 17.5}, "labelFontWeight": "bold", "labelColor": "#000000", "labelOffset": 10, "labelPadding": 9, "labelLineHeight": 19, "labelOverlap": false, "labelExpr": "indexof(datum.label, '+') > 0 ? [slice(datum.label, 0, indexof(datum.label, '+') + 1), slice(datum.label, indexof(datum.label, '+') + 2)] : datum.label", "domainColor": "#000000", "domainWidth": 2, "tickColor": "#000000", "tickWidth": 1.5, "tickSize": 5}},
                "xOffset": {"field": "series", "type": "nominal", "scale": {"domain": ["24 h", "48 h"], "paddingInner": 0}},
                "y": {"field": "value", "type": "quantitative", "scale": {"domain": [0, 600], "nice": false}, "axis": {"title": "% of caspase 3/7 activation", "values": [0, 100, 200, 300, 400, 500, 600], "offset": -8, "labelOverlap": false, "labelFontSize": 15, "labelFontWeight": "bold", "labelColor": "#000000", "labelPadding": 1, "tickSize": 7, "tickWidth": 2, "tickColor": "#000000", "domainColor": "#000000", "domainWidth": 2, "titleFontSize": 19.5, "titleFontWeight": 500, "titleColor": "#111111", "titleX": -55, "titleY": 138, "titleAngle": -90, "titleAlign": "center", "titleBaseline": "alphabetic"}},
                "color": {"field": "series", "type": "nominal", "scale": {"domain": ["24 h", "48 h"], "range": ["#000000", "#767676"]}, "legend": {"orient": "none", "legendX": 574.5, "legendY": 49.6, "title": null, "symbolType": "square", "symbolSize": 400, "symbolStrokeWidth": 0, "symbolOpacity": 1, "labelFontSize": 16, "labelFont": "Lato", "labelColor": "#111111", "labelOffset": 10, "rowPadding": 5, "padding": 0, "direction": "vertical"}}
              }
            },
            {
              "data": {"name": "c_bars"},
              "mark": {"type": "rule", "strokeWidth": 2},
              "encoding": {
                "x": {"field": "cat", "type": "nominal", "sort": null, "scale": {"domain": ["Control", "DMSO", "100 μM TMZ", "2 μM Dov", "2 μM Dov + 100 μM TMZ", "5 μM Dov", "5 μM Dov + 100 μM TMZ", "1.5 mM TMZ", "2.0 mM TMZ"], "paddingInner": 0.2, "paddingOuter": 0.173, "align": 0.72}, "axis": {"title": null, "labelAngle": -45, "labelAlign": "right", "labelBaseline": "middle", "labelFontSize": {"condition": {"test": "datum.value === 'Control'", "value": 20}, "value": 17.5}, "labelFontWeight": "bold", "labelColor": "#000000", "labelOffset": 10, "labelPadding": 9, "labelLineHeight": 19, "labelOverlap": false, "labelExpr": "indexof(datum.label, '+') > 0 ? [slice(datum.label, 0, indexof(datum.label, '+') + 1), slice(datum.label, indexof(datum.label, '+') + 2)] : datum.label", "domainColor": "#000000", "domainWidth": 2, "tickColor": "#000000", "tickWidth": 1.5, "tickSize": 5}},
                "xOffset": {"field": "series", "type": "nominal", "scale": {"domain": ["24 h", "48 h"], "paddingInner": 0}},
                "y": {"field": "value", "type": "quantitative", "scale": {"domain": [0, 600], "nice": false}, "axis": {"title": "% of caspase 3/7 activation", "values": [0, 100, 200, 300, 400, 500, 600], "offset": -8, "labelOverlap": false, "labelFontSize": 15, "labelFontWeight": "bold", "labelColor": "#000000", "labelPadding": 1, "tickSize": 7, "tickWidth": 2, "tickColor": "#000000", "domainColor": "#000000", "domainWidth": 2, "titleFontSize": 19.5, "titleFontWeight": 500, "titleColor": "#111111", "titleX": -55, "titleY": 138, "titleAngle": -90, "titleAlign": "center", "titleBaseline": "alphabetic"}},
                "y2": {"field": "upper"},
                "color": {"field": "series", "type": "nominal", "scale": {"domain": ["24 h", "48 h"], "range": ["#000000", "#767676"]}, "legend": null}
              }
            },
            {
              "data": {"name": "c_bars"},
              "mark": {"type": "tick", "orient": "horizontal", "size": 11, "thickness": 2},
              "encoding": {
                "x": {"field": "cat", "type": "nominal", "sort": null, "scale": {"domain": ["Control", "DMSO", "100 μM TMZ", "2 μM Dov", "2 μM Dov + 100 μM TMZ", "5 μM Dov", "5 μM Dov + 100 μM TMZ", "1.5 mM TMZ", "2.0 mM TMZ"], "paddingInner": 0.2, "paddingOuter": 0.173, "align": 0.72}, "axis": {"title": null, "labelAngle": -45, "labelAlign": "right", "labelBaseline": "middle", "labelFontSize": {"condition": {"test": "datum.value === 'Control'", "value": 20}, "value": 17.5}, "labelFontWeight": "bold", "labelColor": "#000000", "labelOffset": 10, "labelPadding": 9, "labelLineHeight": 19, "labelOverlap": false, "labelExpr": "indexof(datum.label, '+') > 0 ? [slice(datum.label, 0, indexof(datum.label, '+') + 1), slice(datum.label, indexof(datum.label, '+') + 2)] : datum.label", "domainColor": "#000000", "domainWidth": 2, "tickColor": "#000000", "tickWidth": 1.5, "tickSize": 5}},
                "xOffset": {"field": "series", "type": "nominal", "scale": {"domain": ["24 h", "48 h"], "paddingInner": 0}},
                "y": {"field": "upper", "type": "quantitative", "scale": {"domain": [0, 600], "nice": false}, "axis": {"title": "% of caspase 3/7 activation", "values": [0, 100, 200, 300, 400, 500, 600], "offset": -8, "labelOverlap": false, "labelFontSize": 15, "labelFontWeight": "bold", "labelColor": "#000000", "labelPadding": 1, "tickSize": 7, "tickWidth": 2, "tickColor": "#000000", "domainColor": "#000000", "domainWidth": 2, "titleFontSize": 19.5, "titleFontWeight": 500, "titleColor": "#111111", "titleX": -55, "titleY": 138, "titleAngle": -90, "titleAlign": "center", "titleBaseline": "alphabetic"}},
                "color": {"field": "series", "type": "nominal", "scale": {"domain": ["24 h", "48 h"], "range": ["#000000", "#767676"]}, "legend": null}
              }
            },
            {
              "data": {"name": "c_hlines"},
              "mark": {"type": "line", "color": "#000000", "strokeWidth": 2, "strokeCap": "square"},
              "encoding": {
                "x": {"field": "cat", "type": "nominal", "sort": null, "scale": {"domain": ["Control", "DMSO", "100 μM TMZ", "2 μM Dov", "2 μM Dov + 100 μM TMZ", "5 μM Dov", "5 μM Dov + 100 μM TMZ", "1.5 mM TMZ", "2.0 mM TMZ"], "paddingInner": 0.2, "paddingOuter": 0.173, "align": 0.72}, "axis": {"title": null, "labelAngle": -45, "labelAlign": "right", "labelBaseline": "middle", "labelFontSize": {"condition": {"test": "datum.value === 'Control'", "value": 20}, "value": 17.5}, "labelFontWeight": "bold", "labelColor": "#000000", "labelOffset": 10, "labelPadding": 9, "labelLineHeight": 19, "labelOverlap": false, "labelExpr": "indexof(datum.label, '+') > 0 ? [slice(datum.label, 0, indexof(datum.label, '+') + 1), slice(datum.label, indexof(datum.label, '+') + 2)] : datum.label", "domainColor": "#000000", "domainWidth": 2, "tickColor": "#000000", "tickWidth": 1.5, "tickSize": 5}},
                "xOffset": {"field": "series", "type": "nominal", "scale": {"domain": ["24 h", "48 h"], "paddingInner": 0}},
                "y": {"field": "y", "type": "quantitative", "scale": {"domain": [0, 600], "nice": false}, "axis": {"title": "% of caspase 3/7 activation", "values": [0, 100, 200, 300, 400, 500, 600], "offset": -8, "labelOverlap": false, "labelFontSize": 15, "labelFontWeight": "bold", "labelColor": "#000000", "labelPadding": 1, "tickSize": 7, "tickWidth": 2, "tickColor": "#000000", "domainColor": "#000000", "domainWidth": 2, "titleFontSize": 19.5, "titleFontWeight": 500, "titleColor": "#111111", "titleX": -55, "titleY": 138, "titleAngle": -90, "titleAlign": "center", "titleBaseline": "alphabetic"}},
                "detail": {"field": "id"}
              }
            },
            {
              "data": {"name": "c_drops"},
              "mark": {"type": "rule", "color": "#000000", "strokeWidth": 2, "strokeCap": "square"},
              "encoding": {
                "x": {"field": "cat", "type": "nominal", "sort": null, "scale": {"domain": ["Control", "DMSO", "100 μM TMZ", "2 μM Dov", "2 μM Dov + 100 μM TMZ", "5 μM Dov", "5 μM Dov + 100 μM TMZ", "1.5 mM TMZ", "2.0 mM TMZ"], "paddingInner": 0.2, "paddingOuter": 0.173, "align": 0.72}, "axis": {"title": null, "labelAngle": -45, "labelAlign": "right", "labelBaseline": "middle", "labelFontSize": {"condition": {"test": "datum.value === 'Control'", "value": 20}, "value": 17.5}, "labelFontWeight": "bold", "labelColor": "#000000", "labelOffset": 10, "labelPadding": 9, "labelLineHeight": 19, "labelOverlap": false, "labelExpr": "indexof(datum.label, '+') > 0 ? [slice(datum.label, 0, indexof(datum.label, '+') + 1), slice(datum.label, indexof(datum.label, '+') + 2)] : datum.label", "domainColor": "#000000", "domainWidth": 2, "tickColor": "#000000", "tickWidth": 1.5, "tickSize": 5}},
                "xOffset": {"field": "series", "type": "nominal", "scale": {"domain": ["24 h", "48 h"], "paddingInner": 0}},
                "y": {"field": "y", "type": "quantitative", "scale": {"domain": [0, 600], "nice": false}, "axis": {"title": "% of caspase 3/7 activation", "values": [0, 100, 200, 300, 400, 500, 600], "offset": -8, "labelOverlap": false, "labelFontSize": 15, "labelFontWeight": "bold", "labelColor": "#000000", "labelPadding": 1, "tickSize": 7, "tickWidth": 2, "tickColor": "#000000", "domainColor": "#000000", "domainWidth": 2, "titleFontSize": 19.5, "titleFontWeight": 500, "titleColor": "#111111", "titleX": -55, "titleY": 138, "titleAngle": -90, "titleAlign": "center", "titleBaseline": "alphabetic"}},
                "y2": {"field": "y2"}
              }
            },
            {
              "data": {"name": "c_stars"},
              "mark": {"type": "text", "text": "***", "font": "DejaVu Sans", "fontSize": 21, "color": "#222222", "align": "center", "baseline": "alphabetic"},
              "encoding": {
                "x": {"field": "cat", "type": "nominal", "sort": null, "scale": {"domain": ["Control", "DMSO", "100 μM TMZ", "2 μM Dov", "2 μM Dov + 100 μM TMZ", "5 μM Dov", "5 μM Dov + 100 μM TMZ", "1.5 mM TMZ", "2.0 mM TMZ"], "paddingInner": 0.2, "paddingOuter": 0.173, "align": 0.72}, "axis": {"title": null, "labelAngle": -45, "labelAlign": "right", "labelBaseline": "middle", "labelFontSize": {"condition": {"test": "datum.value === 'Control'", "value": 20}, "value": 17.5}, "labelFontWeight": "bold", "labelColor": "#000000", "labelOffset": 10, "labelPadding": 9, "labelLineHeight": 19, "labelOverlap": false, "labelExpr": "indexof(datum.label, '+') > 0 ? [slice(datum.label, 0, indexof(datum.label, '+') + 1), slice(datum.label, indexof(datum.label, '+') + 2)] : datum.label", "domainColor": "#000000", "domainWidth": 2, "tickColor": "#000000", "tickWidth": 1.5, "tickSize": 5}},
                "xOffset": {"field": "series", "type": "nominal", "scale": {"domain": ["24 h", "48 h"], "paddingInner": 0}},
                "y": {"field": "y", "type": "quantitative", "scale": {"domain": [0, 600], "nice": false}, "axis": {"title": "% of caspase 3/7 activation", "values": [0, 100, 200, 300, 400, 500, 600], "offset": -8, "labelOverlap": false, "labelFontSize": 15, "labelFontWeight": "bold", "labelColor": "#000000", "labelPadding": 1, "tickSize": 7, "tickWidth": 2, "tickColor": "#000000", "domainColor": "#000000", "domainWidth": 2, "titleFontSize": 19.5, "titleFontWeight": 500, "titleColor": "#111111", "titleX": -55, "titleY": 138, "titleAngle": -90, "titleAlign": "center", "titleBaseline": "alphabetic"}}
              }
            },
            {
              "data": {"name": "c_note"},
              "mark": {"type": "text", "fontSize": 17, "fontWeight": "bold", "color": "#000000", "align": "center", "baseline": "alphabetic"},
              "encoding": {
                "x": {"field": "cat", "type": "nominal", "sort": null, "bandPosition": 0.16, "scale": {"domain": ["Control", "DMSO", "100 μM TMZ", "2 μM Dov", "2 μM Dov + 100 μM TMZ", "5 μM Dov", "5 μM Dov + 100 μM TMZ", "1.5 mM TMZ", "2.0 mM TMZ"], "paddingInner": 0.2, "paddingOuter": 0.173, "align": 0.72}, "axis": {"title": null, "labelAngle": -45, "labelAlign": "right", "labelBaseline": "middle", "labelFontSize": {"condition": {"test": "datum.value === 'Control'", "value": 20}, "value": 17.5}, "labelFontWeight": "bold", "labelColor": "#000000", "labelOffset": 10, "labelPadding": 9, "labelLineHeight": 19, "labelOverlap": false, "labelExpr": "indexof(datum.label, '+') > 0 ? [slice(datum.label, 0, indexof(datum.label, '+') + 1), slice(datum.label, indexof(datum.label, '+') + 2)] : datum.label", "domainColor": "#000000", "domainWidth": 2, "tickColor": "#000000", "tickWidth": 1.5, "tickSize": 5}},
                "y": {"field": "y", "type": "quantitative", "scale": {"domain": [0, 600], "nice": false}, "axis": {"title": "% of caspase 3/7 activation", "values": [0, 100, 200, 300, 400, 500, 600], "offset": -8, "labelOverlap": false, "labelFontSize": 15, "labelFontWeight": "bold", "labelColor": "#000000", "labelPadding": 1, "tickSize": 7, "tickWidth": 2, "tickColor": "#000000", "domainColor": "#000000", "domainWidth": 2, "titleFontSize": 19.5, "titleFontWeight": 500, "titleColor": "#111111", "titleX": -55, "titleY": 138, "titleAngle": -90, "titleAlign": "center", "titleBaseline": "alphabetic"}},
                "text": {"field": "label"}
              }
            },
            {
              "data": {"name": "c_letter"},
              "mark": {"type": "text", "fontSize": 17, "fontWeight": "bold", "color": "#000000", "align": "left", "baseline": "alphabetic", "dx": -62.8},
              "encoding": {
                "x": {"field": "cat", "type": "nominal", "sort": null, "bandPosition": 0, "scale": {"domain": ["Control", "DMSO", "100 μM TMZ", "2 μM Dov", "2 μM Dov + 100 μM TMZ", "5 μM Dov", "5 μM Dov + 100 μM TMZ", "1.5 mM TMZ", "2.0 mM TMZ"], "paddingInner": 0.2, "paddingOuter": 0.173, "align": 0.72}, "axis": {"title": null, "labelAngle": -45, "labelAlign": "right", "labelBaseline": "middle", "labelFontSize": {"condition": {"test": "datum.value === 'Control'", "value": 20}, "value": 17.5}, "labelFontWeight": "bold", "labelColor": "#000000", "labelOffset": 10, "labelPadding": 9, "labelLineHeight": 19, "labelOverlap": false, "labelExpr": "indexof(datum.label, '+') > 0 ? [slice(datum.label, 0, indexof(datum.label, '+') + 1), slice(datum.label, indexof(datum.label, '+') + 2)] : datum.label", "domainColor": "#000000", "domainWidth": 2, "tickColor": "#000000", "tickWidth": 1.5, "tickSize": 5}},
                "y": {"field": "y", "type": "quantitative", "scale": {"domain": [0, 600], "nice": false}, "axis": {"title": "% of caspase 3/7 activation", "values": [0, 100, 200, 300, 400, 500, 600], "offset": -8, "labelOverlap": false, "labelFontSize": 15, "labelFontWeight": "bold", "labelColor": "#000000", "labelPadding": 1, "tickSize": 7, "tickWidth": 2, "tickColor": "#000000", "domainColor": "#000000", "domainWidth": 2, "titleFontSize": 19.5, "titleFontWeight": 500, "titleColor": "#111111", "titleX": -55, "titleY": 138, "titleAngle": -90, "titleAlign": "center", "titleBaseline": "alphabetic"}},
                "text": {"field": "label"}
              }
            }
          ]
        }
      ]
    }
  ]
}
